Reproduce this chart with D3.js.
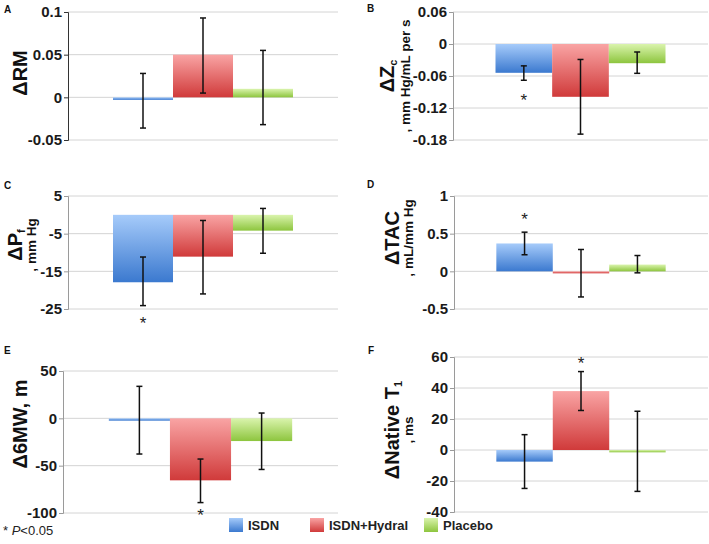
<!DOCTYPE html>
<html>
<head>
<meta charset="utf-8">
<script src="https://cdn.jsdelivr.net/npm/d3@7"></script>
<style>
  body { margin: 0; background: #fff; }
  svg { font-family: "Liberation Sans", Arial, sans-serif; }
</style>
</head>
<body>
<div id="chart"></div>
<script>
// groups
const series = ["ISDN", "ISDN+Hydral", "Placebo"];

// A: ΔRM
const rmMean = [-0.003, 0.05, 0.01];
const rmLo = [-0.036, 0.005, -0.032];
const rmHi = [0.028, 0.093, 0.055];
const rmTicks = [-0.05, 0, 0.05, 0.1];

// B: ΔZc
const zcMean = [-0.054, -0.099, -0.036];
const zcLo = [-0.068, -0.169, -0.055];
const zcHi = [-0.041, -0.029, -0.015];
const zcTicks = [-0.18, -0.12, -0.06, 0, 0.06];

// C: ΔPf
const pfMean = [-17.9, -11.1, -4.2];
const pfLo = [-24.1, -21, -10.2];
const pfHi = [-11.2, -1.5, 1.7];
const pfTicks = [-25, -15, -5, 5];

// D: ΔTAC
const tacMean = [0.37, -0.02, 0.09];
const tacLo = [0.22, -0.34, -0.02];
const tacHi = [0.52, 0.29, 0.21];
const tacTicks = [-0.5, 0, 0.5, 1];

// E: Δ6MW
const mwMean = [-2.5, -65.5, -24];
const mwLo = [-37.7, -89, -54];
const mwHi = [33.8, -43, 5.6];
const mwTicks = [-100, -50, 0, 50];

// F: ΔNative T1
const t1Mean = [-7.5, 38, -1.5];
const t1Lo = [-24.8, 25.5, -26.7];
const t1Hi = [9.9, 50.6, 25];
const t1Ticks = [-40, -20, 0, 20, 40, 60];

// significance (* P<0.05)
const sigB = [true, false, false];
const sigC = [true, false, false];
const sigD = [true, false, false];
const sigE = [false, true, false];
const sigF = [false, true, false];
const sigNone = [false, false, false];

const W = 709, H = 544;
const svg = d3.select("#chart").append("svg")
    .attr("width", W)
    .attr("height", H);

// excel style gradients: light at top, dark at bottom
const grads = [
    {id: "g0", top: "#a6cbfa", bot: "#3b79cf"},
    {id: "g1", top: "#f9a4a4", bot: "#d03a3a"},
    {id: "g2", top: "#daf4ad", bot: "#8dc53e"}
];
let defs = svg.append("defs");
grads.forEach(g => {
    let lg = defs.append("linearGradient")
        .attr("id", g.id)
        .attr("x1", 0).attr("y1", 0).attr("x2", 0).attr("y2", 1);
    lg.append("stop").attr("offset", "0%").attr("stop-color", g.top);
    lg.append("stop").attr("offset", "100%").attr("stop-color", g.bot);
});

function drawPanel(p) {
    let g = svg.append("g");
    let y = d3.scaleLinear()
        .domain([p.ticks[0], p.ticks[p.ticks.length - 1]])
        .range([p.bottom, p.top]);
    let x = d3.scaleBand()
        .domain(series)
        .range([p.left, p.right])
        .paddingInner(0)
        .paddingOuter(0.75);

    // gridlines
    g.selectAll(".grid")
        .data(p.ticks)
        .join("line")
        .attr("x1", p.left).attr("x2", p.right)
        .attr("y1", d => y(d)).attr("y2", d => y(d))
        .attr("stroke", "#d4d4d4")
        .attr("stroke-width", 1);

    // axis
    let axis = d3.axisLeft(y)
        .tickValues(p.ticks)
        .tickSize(4)
        .tickPadding(2)
        .tickFormat(d => String(+d.toFixed(2)));
    let ag = g.append("g")
        .attr("transform", "translate(" + p.left + ",0)")
        .call(axis);
    ag.select(".domain").attr("stroke", p.axisColor || "#9a9a9a");
    ag.selectAll(".tick line").attr("stroke", p.axisColor || "#9a9a9a");
    ag.selectAll(".tick text")
        .attr("font-size", 15)
        .attr("font-weight", "bold")
        .attr("fill", "#1a1a1a")
        .attr("font-family", "'Liberation Sans', Arial, sans-serif");

    // bars
    g.selectAll(".bar")
        .data(series)
        .join("rect")
        .attr("x", d => x(d))
        .attr("width", x.bandwidth())
        .attr("y", (d, i) => Math.min(y(p.mean[i]), y(0)))
        .attr("height", (d, i) => Math.max(Math.abs(y(p.mean[i]) - y(0)), 2))
        .attr("fill", (d, i) => "url(#g" + i + ")");

    // error bars
    let cap = 3;
    series.forEach((s, i) => {
        let cx = x(s) + x.bandwidth() / 2;
        g.append("line")
            .attr("x1", cx).attr("x2", cx)
            .attr("y1", y(p.lo[i])).attr("y2", y(p.hi[i]))
            .attr("stroke", "#111").attr("stroke-width", 1.5);
        [p.lo[i], p.hi[i]].forEach(v => {
            g.append("line")
                .attr("x1", cx - cap).attr("x2", cx + cap)
                .attr("y1", y(v)).attr("y2", y(v))
                .attr("stroke", "#111").attr("stroke-width", 1.5);
        });
        if (p.sig[i]) {
            let below = p.mean[i] < 0;
            let sy = below ? y(p.lo[i]) + p.starGap : y(p.hi[i]) - p.starGap;
            g.append("text")
                .attr("x", cx)
                .attr("y", sy + 8)
                .attr("text-anchor", "middle")
                .attr("font-size", 17)
                .attr("fill", "#222")
                .text("*");
        }
    });

    // panel letter
    g.append("text")
        .attr("x", p.letterX).attr("y", p.letterY)
        .attr("font-size", 10)
        .attr("font-weight", "bold")
        .attr("fill", "#111")
        .text(p.letter);

    // y title (rotated)
    let cy = p.titleY;
    let t1 = g.append("text")
        .attr("transform", "translate(" + p.t1x + "," + cy + ") rotate(-90)")
        .attr("text-anchor", "middle")
        .attr("font-size", 20)
        .attr("font-weight", "bold")
        .attr("fill", "#111");
    t1.append("tspan").text(p.title);
    if (p.sub) {
        t1.append("tspan")
            .attr("font-size", 11)
            .attr("dy", 3)
            .text(p.sub);
    }
    if (p.unit) {
        g.append("text")
            .attr("transform", "translate(" + p.t2x + "," + cy + ") rotate(-90)")
            .attr("text-anchor", "middle")
            .attr("font-size", 13.5)
            .attr("font-weight", "bold")
            .attr("fill", "#111")
            .text(p.unit);
    }
}

drawPanel({letter: "A", letterX: 4, letterY: 13, left: 68, right: 338, top: 12, bottom: 140,
    ticks: rmTicks, mean: rmMean, lo: rmLo, hi: rmHi, sig: sigNone, starGap: 14,
    title: "ΔRM", t1x: 27, titleY: 73, axisColor: "#333"});

drawPanel({letter: "B", letterX: 367, letterY: 12, left: 453, right: 708, top: 12, bottom: 140,
    ticks: zcTicks, mean: zcMean, lo: zcLo, hi: zcHi, sig: sigB, starGap: 18,
    title: "ΔZ", sub: "c", unit: ", mm Hg/mL per s", t1x: 394, t2x: 410, titleY: 76});

drawPanel({letter: "C", letterX: 4, letterY: 189, left: 68, right: 338, top: 196, bottom: 309,
    ticks: pfTicks, mean: pfMean, lo: pfLo, hi: pfHi, sig: sigC, starGap: 15,
    title: "ΔP", sub: "f", unit: ", mm Hg", t1x: 22, t2x: 36, titleY: 245});

drawPanel({letter: "D", letterX: 367, letterY: 188, left: 454, right: 708, top: 196, bottom: 309,
    ticks: tacTicks, mean: tacMean, lo: tacLo, hi: tacHi, sig: sigD, starGap: 15,
    title: "ΔTAC", unit: ", mL/mm Hg", t1x: 399, t2x: 413, titleY: 238});

drawPanel({letter: "E", letterX: 4, letterY: 354, left: 63, right: 338, top: 371, bottom: 513,
    ticks: mwTicks, mean: mwMean, lo: mwLo, hi: mwHi, sig: sigE, starGap: 10,
    title: "Δ6MW, m", t1x: 27, titleY: 424});

drawPanel({letter: "F", letterX: 368, letterY: 354, left: 454, right: 708, top: 357, bottom: 512,
    ticks: t1Ticks, mean: t1Mean, lo: t1Lo, hi: t1Hi, sig: sigF, starGap: 11,
    title: "ΔNative T", sub: "1", unit: ", ms", t1x: 399, t2x: 413, titleY: 430});

// legend
const legendX = [229, 310, 424];
let leg = svg.append("g");
series.forEach((s, i) => {
    leg.append("rect")
        .attr("x", legendX[i]).attr("y", 518)
        .attr("width", 14).attr("height", 14)
        .attr("fill", "url(#g" + i + ")");
    leg.append("text")
        .attr("x", legendX[i] + 19).attr("y", 530)
        .attr("font-size", 13)
        .attr("font-weight", "bold")
        .attr("fill", "#222")
        .text(s);
});

// footnote
let fn = svg.append("text")
    .attr("x", 3).attr("y", 535)
    .attr("font-size", 13)
    .attr("fill", "#222");
fn.append("tspan").text("* ");
fn.append("tspan").attr("font-style", "italic").text("P");
fn.append("tspan").text("<0.05");
</script>
</body>
</html>
